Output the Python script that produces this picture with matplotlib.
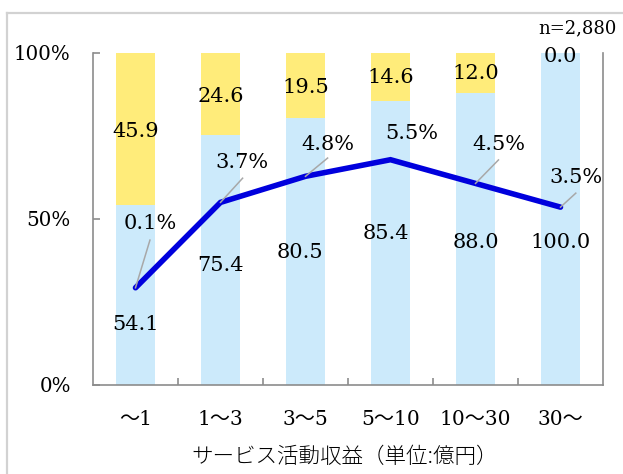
import matplotlib
matplotlib.use('Agg')
import matplotlib.pyplot as plt
from matplotlib.lines import Line2D

# ---- data ----
categories = ['～1', '1～3', '3～5', '5～10', '10～30', '30～']
blue_share = [54.1, 75.4, 80.5, 85.4, 88.0, 100.0]
yellow_share = [45.9, 24.6, 19.5, 14.6, 12.0, 0.0]
margin = [0.1, 3.7, 4.8, 5.5, 4.5, 3.5]
yticks = [0, 50, 100]
ytick_labels = ['0%', '50%', '100%']
n_label = 'n=2,880'
xlabel = 'サービス活動収益（単位:億円）'

# ---- label placement (layout only) ----
blue_lab_pos = [(0.0, 18.1), (0.0, 36.1), (-0.07, 39.8), (-0.06, 45.5), (0.0, 42.8), (0.0, 42.8)]
yellow_lab_pos = [76.5, 87.0, 89.5, 92.5, 93.7, 98.8]
margin_lab_pos = [(0.17, 2.83), (0.25, 5.40), (0.26, 6.16), (0.25, 6.62), (0.27, 6.16), (0.18, 4.77)]
leader_end = [(0.17, 2.11), (0.26, 4.72), (0.26, 5.57), None, (0.27, 5.49), (0.18, 4.09)]

SERIF = ['DejaVu Serif', 'Noto Sans CJK JP']
BLUE = '#CCEAFB'
YELLOW = '#FFEC7A'
LINE = '#0000DD'
GRAY = '#8C8C8C'

fig = plt.figure(figsize=(6.23, 4.74), dpi=100)

# outer frame (cropped box)
fx = 7 / 623
fy = 1 - 13 / 474
fig.add_artist(Line2D([fx, fx], [0, fy], transform=fig.transFigure, color='#D2D2D2', lw=1.6))
fig.add_artist(Line2D([fx, 1], [fy, fy], transform=fig.transFigure, color='#D2D2D2', lw=1.6))

ax = fig.add_axes([93 / 623, 1 - 385 / 474, 510 / 623, 332 / 474])
x = list(range(len(categories)))
ax.bar(x, blue_share, width=0.46, color=BLUE, zorder=1)
ax.bar(x, yellow_share, bottom=blue_share, width=0.46, color=YELLOW, zorder=1)
ax.set_xlim(-0.5, len(categories) - 0.5)
ax.set_ylim(0, 100)

for s in ['left', 'right', 'bottom']:
    ax.spines[s].set_color(GRAY)
    ax.spines[s].set_linewidth(1.2)
ax.spines['top'].set_visible(False)

ax.set_yticks(yticks)
ax.set_yticklabels(ytick_labels, family=SERIF, fontsize=14.3)
ax.tick_params(axis='y', direction='in', length=5, color=GRAY, width=1.2, pad=16)

ax.set_xticks(x)
ax.set_xticklabels(categories, family=SERIF, fontsize=14.5)
ax.tick_params(axis='x', which='major', length=0, pad=18)
ax.set_xticks([i + 0.5 for i in x[:-1]], minor=True)
ax.tick_params(axis='x', which='minor', direction='in', length=5, color=GRAY, width=1.2)

for i, v in enumerate(blue_share):
    dx, yy = blue_lab_pos[i]
    ax.text(i + dx, yy, f'{v:.1f}', ha='center', va='center', family=SERIF, fontsize=15, zorder=3)
for i, v in enumerate(yellow_share):
    ax.text(i, yellow_lab_pos[i], f'{v:.1f}', ha='center', va='center', family=SERIF, fontsize=15, zorder=3)

ax2 = ax.twinx()
ax2.set_ylim(-4, 10)
for s in ax2.spines.values():
    s.set_visible(False)
ax2.set_yticks([])
ax2.plot(x, margin, color=LINE, lw=4.0, solid_joinstyle='miter', solid_capstyle='round', zorder=4)
for i, m in enumerate(margin):
    if leader_end[i] is not None:
        ex, ey = leader_end[i]
        ax2.plot([i, i + ex], [m, ey], color='#A8A8A8', lw=1.1, zorder=5)
    dx, yy = margin_lab_pos[i]
    ax2.text(i + dx, yy, f'{m:.1f}%', ha='center', va='center', family=SERIF, fontsize=15, zorder=6)

fig.text(577 / 623, 1 - 28 / 474, n_label, ha='center', va='center', family=SERIF, fontsize=13)
fig.text(344.5 / 623, 1 - 457 / 474, xlabel, ha='center', va='center',
         family=['Noto Sans CJK JP', 'DejaVu Sans'], fontsize=15.5, fontweight='light')

fig.savefig('out.png', dpi=100)
